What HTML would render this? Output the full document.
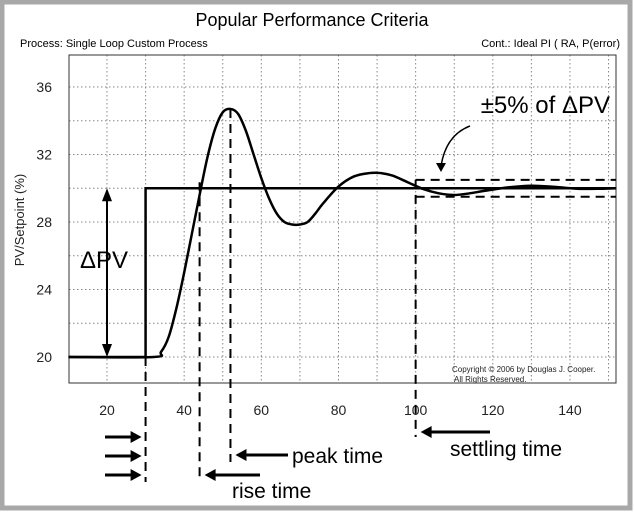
<!DOCTYPE html>
<html><head><meta charset="utf-8"><style>
html,body{margin:0;padding:0;background:#fff}
svg{display:block;font-family:"Liberation Sans",Arial,sans-serif}
</style></head><body>
<svg id="c" width="634" height="512" viewBox="0 0 634 512">
<rect x="2" y="2" width="628" height="506" fill="#fff" stroke="#a8a8a8" stroke-width="5"/>
<text x="312" y="26" font-size="18" text-anchor="middle">Popular Performance Criteria</text>
<text x="20" y="47" font-size="11">Process: Single Loop Custom Process</text>
<text x="620" y="47" font-size="11" text-anchor="end">Cont.: Ideal PI ( RA, P(error)</text>
<g id="grid"></g>
<rect x="69" y="55" width="547" height="328" fill="none" stroke="#333" stroke-width="1"/>
<g id="ticks"></g>
<text transform="translate(24,220) rotate(-90)" font-size="13" text-anchor="middle" fill="#222">PV/Setpoint  (%)</text>
<g id="marks"></g>
<text x="610" y="113" font-size="24" text-anchor="end">±5% of ΔPV</text>
<path d="M470,126 Q446,135 441,166" fill="none" stroke="#000" stroke-width="1.5"/>
<polygon points="436,163 446,163 441,172" fill="#000"/>
<text x="80" y="268" font-size="24">ΔPV</text>
<text x="452" y="372" font-size="8" fill="#222">Copyright © 2006 by Douglas J. Cooper.</text>
<text x="454" y="382" font-size="8" fill="#222">All Rights Reserved.</text>
<text x="292" y="463" font-size="21">peak time</text>
<text x="232" y="498" font-size="21">rise time</text>
<text x="450" y="456" font-size="21">settling time</text>
</svg>
<script>
const xTicks=[20,40,60,80,100,120,140];
const yTicks=[20,24,28,32,36];
const pvTime=[10,32,34,36,38,40,42,44,46,48,50,52,54,56,58,60,62,64,66,68,70,72,74,76,80,84,88,91,94,98,102,106,110,114,118,124,130,136,142,148,152];
const pvValue=[20,20,20.3,21.2,22.9,25,27.3,29.6,31.8,33.5,34.5,34.7,34.4,33.4,32.0,30.6,29.4,28.5,28.0,27.85,27.85,28.0,28.5,29.1,30.1,30.7,30.9,30.9,30.75,30.35,29.95,29.7,29.6,29.7,29.85,30.05,30.15,30.08,29.97,29.97,30];
const spTime=[10,30,30,152];
const spValue=[20,20,30,30];
const stepTime=30, riseTime=44, peakTime=52, settleTime=100, band=0.5, setpoint=30;
const X=v=>107+(v-20)*3.858, Y=v=>357-(v-20)*16.875;
const NS="http://www.w3.org/2000/svg";
function mk(p,tag,a){const e=document.createElementNS(NS,tag);for(const k in a)e.setAttribute(k,a[k]);document.getElementById(p).appendChild(e);return e;}
for(let v=20;v<=150;v+=10){const l=mk('grid','line',{x1:X(v),x2:X(v),y1:55,y2:383,stroke:'#888','stroke-dasharray':'1.5,2.5','stroke-width':1});

}
for(let v=20;v<=36;v+=2){const l=mk('grid','line',{x1:69,x2:616,y1:Y(v),y2:Y(v),stroke:'#888','stroke-dasharray':'1.5,2.5','stroke-width':1});

}
xTicks.forEach(v=>{const t=mk('ticks','text',{x:X(v),y:415,'font-size':14,'text-anchor':'middle',fill:'#222'});t.textContent=v;

});
yTicks.forEach(v=>{const t=mk('ticks','text',{x:52,y:Y(v)+5,'font-size':14,'text-anchor':'end',fill:'#222'});t.textContent=v;

});
// setpoint
let d=spTime.map((t,i)=>(i?'L':'M')+X(t)+','+Y(spValue[i])).join('');
const sp=mk('marks','path',{d:d,fill:'none',stroke:'#000','stroke-width':2.5});


// pv smooth (catmull-rom)
const P=pvTime.map((t,i)=>[X(t),Y(pvValue[i])]);
d='M'+P[0];
for(let i=0;i<P.length-1;i++){const p0=P[i-1]||P[i],p1=P[i],p2=P[i+1],p3=P[i+2]||P[i+1];
d+='C'+(p1[0]+(p2[0]-p0[0])/6)+','+(p1[1]+(p2[1]-p0[1])/6)+' '+(p2[0]-(p3[0]-p1[0])/6)+','+(p2[1]-(p3[1]-p1[1])/6)+' '+p2[0]+','+p2[1];}
const pv=mk('marks','path',{d:d,fill:'none',stroke:'#000','stroke-width':2.5});


function dash(name,x1,y1,x2,y2){const l=mk('marks','line',{x1:x1,y1:y1,x2:x2,y2:y2,stroke:'#000','stroke-width':2,'stroke-dasharray':'9,6'});

}
dash('band-upper',X(settleTime),Y(setpoint+band),616,Y(setpoint+band));
dash('band-lower',X(settleTime),Y(setpoint-band),616,Y(setpoint-band));
dash('step-time-marker',X(stepTime),Y(20),X(stepTime),482);
dash('rise-time-marker',X(riseTime),Y(setpoint)-6,X(riseTime),482);
dash('peak-time-marker',X(peakTime),Y(34.7),X(peakTime),462);
dash('settling-time-marker',X(settleTime),Y(setpoint+band),X(settleTime),437);
function arrow(name,x1,y,x2){const l=mk('marks','line',{x1:x1,y1:y,x2:x2-(x2>x1?8:-8),y2:y,stroke:'#000','stroke-width':3});


const s=x2>x1?-1:1;const h=mk('marks','polygon',{points:`${x2},${y} ${x2+s*11},${y-6} ${x2+s*11},${y+6}`,fill:'#000'});

}
arrow('step-arrow-1',105,437,X(stepTime)-4);
arrow('step-arrow-2',105,456,X(stepTime)-4);
arrow('step-arrow-3',105,475,X(stepTime)-4);
arrow('peak-time-arrow',288,455,X(peakTime)+5);
arrow('rise-time-arrow',260,475,X(riseTime)+5);
arrow('settling-time-arrow',490,432,X(settleTime)+5);
// delta PV double arrow
const ax=107;
const dl=mk('marks','line',{x1:ax,y1:Y(setpoint)+10,x2:ax,y2:Y(20)-10,stroke:'#000','stroke-width':2});


const h1=mk('marks','polygon',{points:`${ax},${Y(setpoint)} ${ax-5},${Y(setpoint)+13} ${ax+5},${Y(setpoint)+13}`,fill:'#000'});


const h2=mk('marks','polygon',{points:`${ax},${Y(20)} ${ax-5},${Y(20)-13} ${ax+5},${Y(20)-13}`,fill:'#000'});


</script>
</body></html>
